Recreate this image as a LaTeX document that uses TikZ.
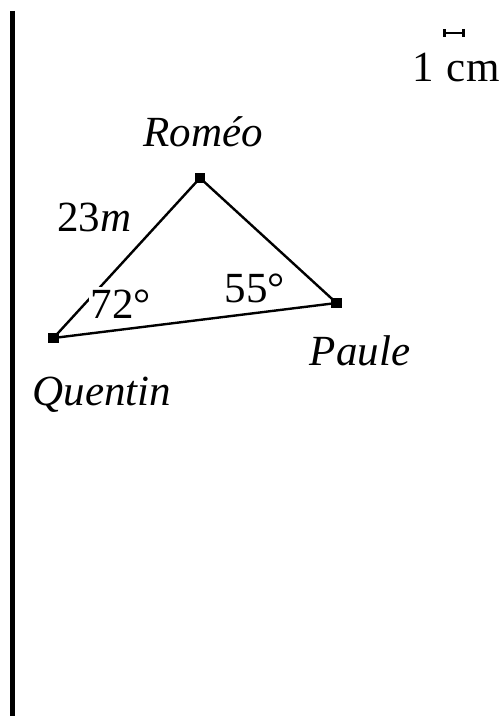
\documentclass[tikz,border=0pt]{standalone}
\usepackage{fontspec}
\setmainfont{Liberation Serif}
\usetikzlibrary{arrows.meta}
\tikzset{
  vertex/.style = {rectangle, fill=black, inner sep=0pt, minimum size=5.2pt},
  side/.style   = {line width=1.2pt},
  who/.style    = {anchor=base, inner sep=0pt, font=\fontsize{21.5}{26}\selectfont\itshape},
  txt/.style    = {anchor=base, inner sep=0pt, font=\fontsize{21.5}{26}\selectfont},
  angl/.style   = {anchor=base, inner sep=1pt, fill=white, font=\fontsize{21.5}{26}\selectfont},
  scalebar/.style = {{Bar[width=4pt]}-{Bar[width=4pt]}, line width=1.3pt},
}
\begin{document}
\begin{tikzpicture}[x=0.5pt, y=-0.5pt]
  \useasboundingbox (0,0) rectangle (503,716);
  % margin rule
  \coordinate (rtop) at (12.5,11);
  \coordinate (rbot) at (12.5,716);
  \draw[line width=2.6pt] (rtop) -- (rbot);
  % scale
  \coordinate (sa) at (443,33);
  \coordinate (sb) at (465,33);
  \draw[scalebar] (sa) -- (sb);
  \node[txt] (unit) at (456,82) {1\hspace{0.3em}cm};
  % triangle
  \node[vertex] (R) at (200,178) {};
  \node[vertex] (P) at (336.5,303) {};
  \node[vertex] (Q) at (53.5,338) {};
  \draw[side] (Q.center) -- (R.center) -- (P.center) -- cycle;
  \node[who] (romeo) at (203,147) {Roméo};
  \node[who] (paule) at (360,365) {Paule};
  \node[who] (quentin) at (102,405) {Quentin};
  \node[txt] (len) at (94.5,232) {23\textit{m}};
  \node[angl] (aq) at (121,318) {72°};
  \node[txt] (ap) at (255,302) {55°};
\end{tikzpicture}
\end{document}
